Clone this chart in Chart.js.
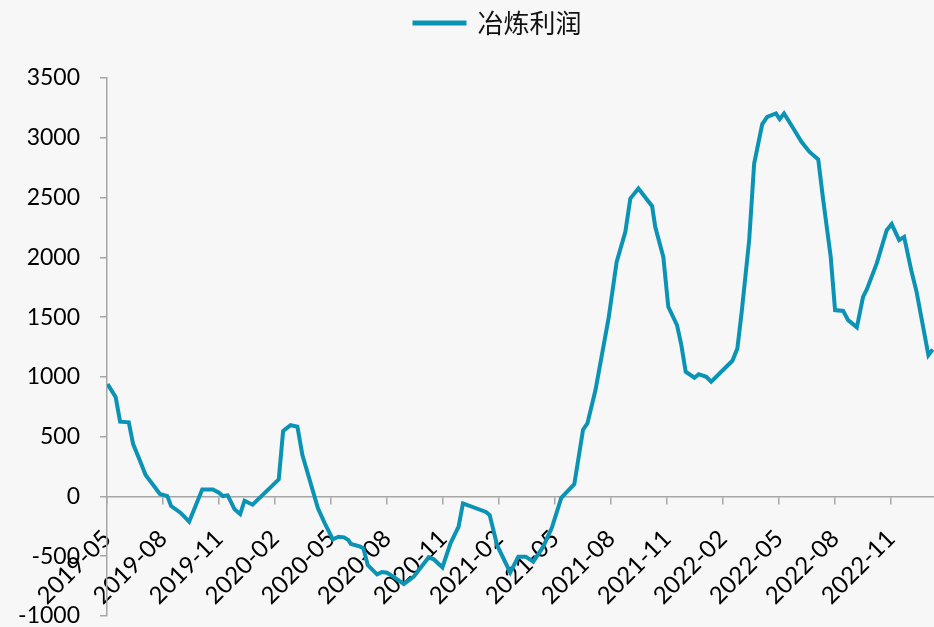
<!DOCTYPE html>
<html>
<head>
<meta charset="utf-8">
<script src="https://cdn.jsdelivr.net/npm/chart.js@4/dist/chart.umd.min.js"></script>
<style>
  html, body { margin: 0; padding: 0; background: #f7f7f7; }
  #wrap { width: 934px; height: 627px; position: relative; }
</style>
</head>
<body>
<div id="wrap"><canvas id="chart"></canvas></div>
<script>
const series_name = "冶炼利润";

const dates = [
  "2019-05-02", "2019-05-15", "2019-05-22", "2019-06-06", "2019-06-13", "2019-06-24",
  "2019-07-03", "2019-07-14", "2019-07-26", "2019-08-08", "2019-08-14", "2019-08-29",
  "2019-09-13", "2019-10-04", "2019-10-21", "2019-11-01", "2019-11-07", "2019-11-15",
  "2019-11-26", "2019-12-05", "2019-12-12", "2019-12-25", "2020-02-07", "2020-02-14",
  "2020-02-26", "2020-03-07", "2020-03-15", "2020-04-10", "2020-04-21", "2020-05-04",
  "2020-05-13", "2020-05-22", "2020-05-29", "2020-06-03", "2020-06-18", "2020-06-23",
  "2020-06-30", "2020-07-15", "2020-07-23", "2020-08-01", "2020-08-11", "2020-08-28",
  "2020-09-14", "2020-10-08", "2020-10-16", "2020-10-30", "2020-11-13", "2020-11-26",
  "2020-12-03", "2021-01-10", "2021-01-16", "2021-01-28", "2021-02-19", "2021-03-02",
  "2021-03-14", "2021-03-26", "2021-04-12", "2021-04-26", "2021-05-11", "2021-06-02",
  "2021-06-16", "2021-06-23", "2021-07-06", "2021-07-27", "2021-08-10", "2021-08-24",
  "2021-09-02", "2021-09-15", "2021-10-07", "2021-10-12", "2021-10-25", "2021-11-03",
  "2021-11-17", "2021-11-24", "2021-12-01", "2021-12-15", "2021-12-22", "2022-01-04",
  "2022-01-12", "2022-02-16", "2022-02-24", "2022-03-01", "2022-03-13", "2022-03-21",
  "2022-04-04", "2022-04-12", "2022-04-26", "2022-05-02", "2022-05-09", "2022-05-24",
  "2022-06-07", "2022-06-20", "2022-07-04", "2022-07-12", "2022-07-24", "2022-08-01",
  "2022-08-14", "2022-08-22", "2022-09-06", "2022-09-16", "2022-09-22", "2022-10-08",
  "2022-10-24", "2022-11-02", "2022-11-14", "2022-11-22", "2022-12-04", "2022-12-12",
  "2023-01-01", "2023-01-08"
];

const profit = [
  940, 829, 625, 620, 438, 299,
  179, 104, 20, 3, -80, -136,
  -211, 59, 59, 31, 3, 9,
  -108, -147, -36, -69, 143, 547,
  597, 583, 346, -100, -225, -359,
  -337, -342, -365, -398, -420, -434,
  -574, -652, -632, -638, -671, -732,
  -671, -509, -526, -593, -392, -253,
  -58, -130, -156, -410, -636, -504,
  -504, -546, -420, -260, -12, 104,
  558, 611, 890, 1489, 1962, 2213,
  2492, 2576, 2428, 2255, 2004, 1586,
  1433, 1266, 1043, 993, 1023, 1001,
  959, 1135, 1238, 1544, 2144, 2785,
  3114, 3175, 3203, 3156, 3203, 3078,
  2966, 2882, 2818, 2478, 2004, 1559,
  1552, 1475, 1414, 1670, 1732, 1949,
  2227, 2278, 2144, 2171, 1879, 1711,
  1182, 1230
];

const tick_labels = [
  "2019-05", "2019-08", "2019-11", "2020-02", "2020-05", "2020-08", "2020-11",
  "2021-02", "2021-05", "2021-08", "2021-11", "2022-02", "2022-05", "2022-08", "2022-11"
];

const y_ticks = [-1000, -500, 0, 500, 1000, 1500, 2000, 2500, 3000, 3500];

// months since 2019-05-01
function month_index(s) {
  const p = s.split("-").map(Number);
  return (p[0] - 2019) * 12 + (p[1] - 5) + (p[2] - 1) / 30;
}

const line_color = "#0b93b5";
const axis_color = "#a6a6a6";
const font_family = "Lato, 'Liberation Sans', sans-serif";

const points = dates.map((d, i) => ({ x: month_index(d), y: profit[i] }));

// nudge the legend to where the original sits
const legend_shift = {
  id: "legend_shift",
  afterLayout(chart) {
    const lg = chart.legend;
    lg.left += 31; lg.right += 31;
    lg.top -= 32; lg.bottom -= 32;
  },
};

new Chart(document.getElementById("chart"), {
  type: "line",
  data: {
    datasets: [{
      label: series_name,
      data: points,
      borderColor: line_color,
      backgroundColor: line_color,
      borderWidth: 4,
      pointRadius: 0,
      tension: 0,
      fill: false,
    }],
  },
  plugins: [legend_shift],
  options: {
    responsive: true,
    maintainAspectRatio: false,
    animation: false,
    layout: { padding: { top: 28, right: 0, bottom: 0, left: 0 } },
    plugins: {
      tooltip: { enabled: false },
      legend: {
        position: "top",
        labels: {
          boxWidth: 50,
          boxHeight: 1,
          color: "#111",
          padding: 14,
          font: { family: "'Noto Sans CJK SC', sans-serif", size: 26 },
        },
      },
    },
    scales: {
      x: {
        type: "linear",
        position: { y: 0 },
        min: 0,
        max: 44.3,
        afterBuildTicks: (scale) => {
          scale.ticks = tick_labels.map(l => ({ value: month_index(l + "-01") }));
        },
        // axis sits on the zero line, so it takes no room at the bottom
        afterFit: (scale) => { scale.height = 0; },
        grid: { drawOnChartArea: false, drawTicks: true, tickLength: 7, color: axis_color, lineWidth: 1.5 },
        border: { color: axis_color, width: 1.5 },
        ticks: {
          autoSkip: false,
          maxRotation: 45,
          minRotation: 45,
          padding: 21,
          color: "#000",
          font: { family: font_family, size: 24 },
          callback: (v) => tick_labels[Math.round(v / 3)],
        },
      },
      y: {
        min: -1000,
        max: 3500,
        afterBuildTicks: (scale) => {
          scale.ticks = y_ticks.map(v => ({ value: v }));
        },
        afterFit: (scale) => {
          scale.width = 107;
          scale.paddingTop = 0;
          scale.paddingBottom = 11;
        },
        grid: { drawOnChartArea: false, drawTicks: true, tickLength: 7, color: axis_color, lineWidth: 1.5 },
        border: { color: axis_color, width: 1.5 },
        ticks: {
          padding: 20,
          color: "#000",
          font: { family: font_family, size: 23 },
          callback: (v) => String(v),
        },
      },
    },
  },
});
</script>
</body>
</html>
